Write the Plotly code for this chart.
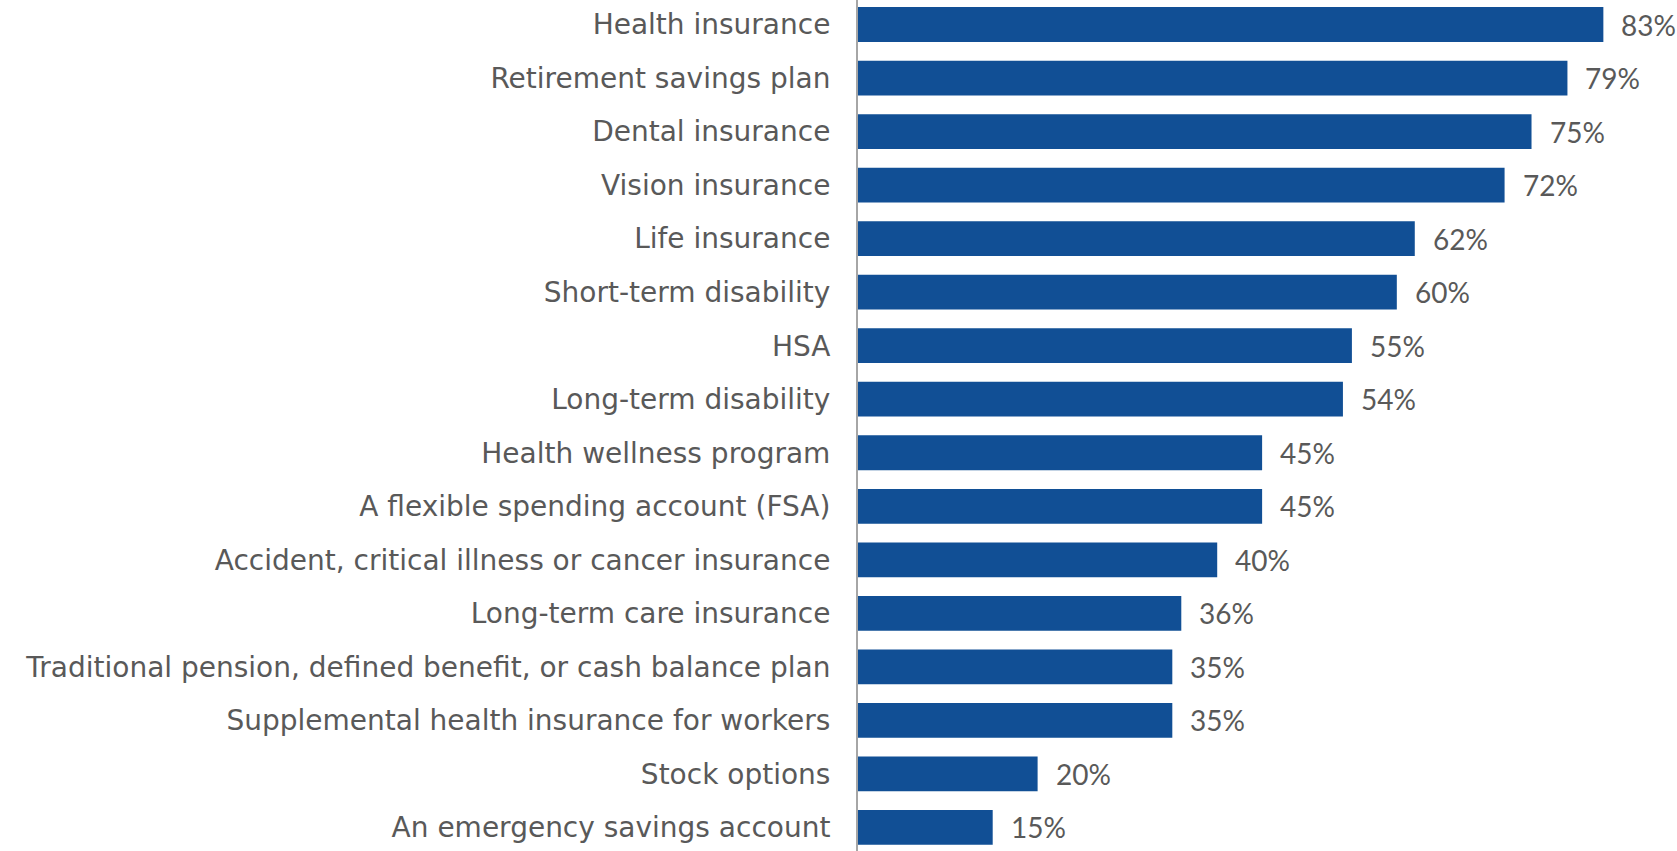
import plotly.graph_objects as go

# Share of employers offering each benefit (%)
benefits = [
    "Health insurance",
    "Retirement savings plan",
    "Dental insurance",
    "Vision insurance",
    "Life insurance",
    "Short-term disability",
    "HSA",
    "Long-term disability",
    "Health wellness program",
    "A flexible spending account (FSA)",
    "Accident, critical illness or cancer insurance",
    "Long-term care insurance",
    "Traditional pension, defined benefit, or cash balance plan",
    "Supplemental health insurance for workers",
    "Stock options",
    "An emergency savings account",
]
shares = [83, 79, 75, 72, 62, 60, 55, 54, 45, 45, 40, 36, 35, 35, 20, 15]

BAR_COLOR = "#114F95"
TEXT_COLOR = "#595959"
LABEL_FONT = "'DejaVu Sans', sans-serif"
VALUE_FONT = "Lato, 'DejaVu Sans', sans-serif"

fig = go.Figure(
    go.Bar(
        x=shares,
        y=benefits,
        orientation="h",
        marker=dict(color=BAR_COLOR, line=dict(width=0)),
        width=0.65,
        hoverinfo="skip",
    )
)

# value labels to the right of each bar
for name, v in zip(benefits, shares):
    fig.add_annotation(
        x=v, y=name, text=f"{v}%", showarrow=False,
        xanchor="left", yanchor="middle", xshift=16,
        font=dict(family=VALUE_FONT, size=28, color=TEXT_COLOR),
    )

fig.update_layout(
    width=1677, height=851,
    margin=dict(l=858, r=0, t=0, b=0),
    paper_bgcolor="white", plot_bgcolor="white",
    showlegend=False,
    bargap=0.35,
    xaxis=dict(range=[0, 91.2], visible=False, fixedrange=True),
    yaxis=dict(
        categoryorder="array", categoryarray=benefits,
        range=[15.44, -0.458],
        showline=True, linecolor="#A6A6A6", linewidth=2,
        showgrid=False, zeroline=False, ticks="",
        ticklabelstandoff=20,
        tickfont=dict(family=LABEL_FONT, size=28, color=TEXT_COLOR),
        fixedrange=True,
    ),
)

fig.write_html("out.html")
